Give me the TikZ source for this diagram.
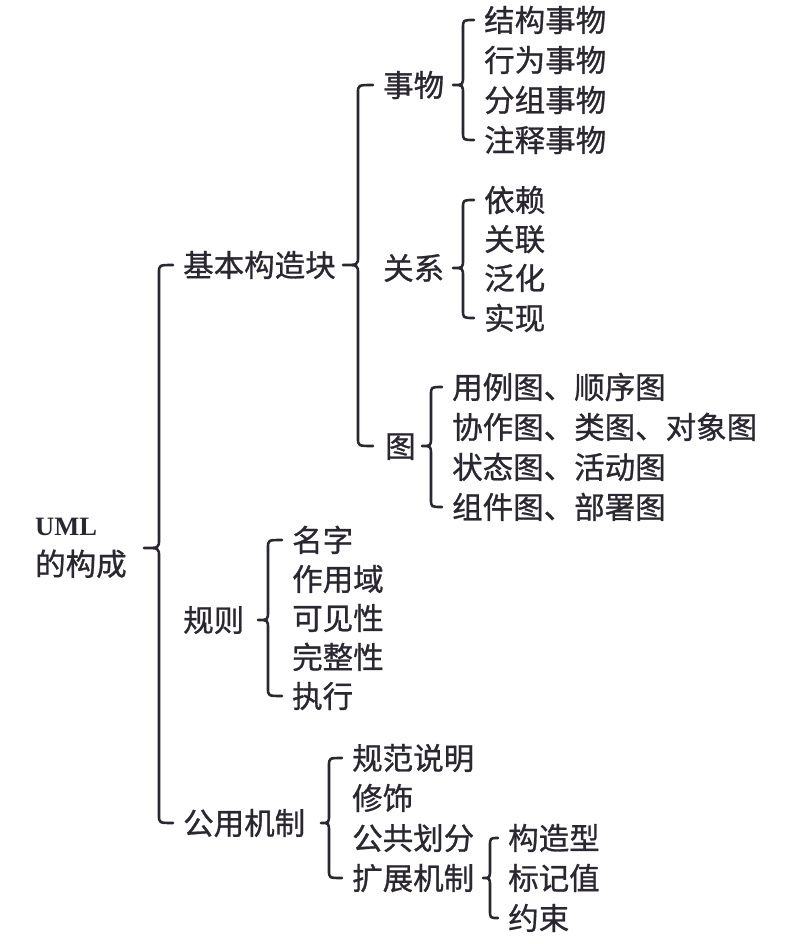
\documentclass[tikz,border=0pt]{standalone}
\usepackage{fontspec}
\setmainfont{Noto Sans CJK SC}[FakeBold=0.9]
\newfontfamily\umlfont{Liberation Serif}
\usetikzlibrary{calc}
\definecolor{ink}{HTML}{2B2730}
\newcommand\cjkfs{\fontsize{30.5}{40}\selectfont}
\newcommand\mybrace[5]{%
  \draw[brc] let \p1=(#2.west), \p2=(#3.west), \p3=(#1.east) in
    ({\x1-10pt},\y1) .. controls ({\x1-10pt-#4},\y1) .. ({\x1-10pt-#4},\y1-8pt)
    -- ({\x1-10pt-#4},\y3+9pt) .. controls ({\x1-10pt-#4},\y3) .. ({\x1-10pt-#4-#5},\y3)
    .. controls ({\x1-10pt-#4},\y3) .. ({\x1-10pt-#4},\y3-9pt)
    -- ({\x1-10pt-#4},\y2+8pt) .. controls ({\x1-10pt-#4},\y2) .. ({\x1-10pt},\y2);
}
\tikzset{
  lbl/.style={anchor=west, inner sep=0pt, text height=26.8pt, text depth=3.7pt, font=\cjkfs, text=ink},
  rootlbl/.style={anchor=west, inner sep=0pt, align=left, font=\cjkfs, text=ink},
  brc/.style={draw=ink, line width=2.6pt, line cap=round, line join=round}
}
\begin{document}
\begin{tikzpicture}[x=1pt,y=-1pt]
\useasboundingbox[fill=white] (0,0) rectangle (784,944);
% root
\node[rootlbl] (root) at (35,548) {{\umlfont\bfseries\fontsize{26.5}{40}\selectfont UML}\\的构成};
% level 1
\node[lbl] (jb) at (183,265) {基本构造块};
\node[lbl] (gz) at (183,620) {规则};
\node[lbl] (gy) at (183,823) {公用机制};
% level 2
\node[lbl] (sw) at (383,85) {事物};
\node[lbl] (gx) at (383,268) {关系};
\node[lbl] (tu) at (385,446) {图};
% things
\node[lbl] (s1) at (484,20) {结构事物};
\node[lbl] (s2) at (484,60) {行为事物};
\node[lbl] (s3) at (484,100) {分组事物};
\node[lbl] (s4) at (484,140) {注释事物};
% relations
\node[lbl] (r1) at (484,200) {依赖};
\node[lbl] (r2) at (484,239) {关联};
\node[lbl] (r3) at (484,278) {泛化};
\node[lbl] (r4) at (484,318) {实现};
% diagrams
\node[lbl] (t1) at (452,387) {用例图、顺序图};
\node[lbl] (t2) at (452,427) {协作图、类图、对象图};
\node[lbl] (t3) at (452,467) {状态图、活动图};
\node[lbl] (t4) at (452,507) {组件图、部署图};
% rules
\node[lbl] (g1) at (292,540) {名字};
\node[lbl] (g2) at (292,579) {作用域};
\node[lbl] (g3) at (292,618) {可见性};
\node[lbl] (g4) at (292,657) {完整性};
\node[lbl] (g5) at (292,696) {执行};
% common mechanisms
\node[lbl] (c1) at (352,758) {规范说明};
\node[lbl] (c2) at (352,798) {修饰};
\node[lbl] (c3) at (352,838) {公共划分};
\node[lbl] (c4) at (352,878) {扩展机制};
% extension mechanisms
\node[lbl] (e1) at (508,838) {构造型};
\node[lbl] (e2) at (508,878) {标记值};
\node[lbl] (e3) at (508,918) {约束};
% braces
\mybrace{root}{jb}{gy}{14pt}{15pt}
\mybrace{jb}{sw}{tu}{15pt}{15pt}
\mybrace{sw}{s1}{s4}{11pt}{10pt}
\mybrace{gx}{r1}{r4}{11pt}{10pt}
\mybrace{tu}{t1}{t4}{11pt}{9pt}
\mybrace{gz}{g1}{g5}{14pt}{10pt}
\mybrace{gy}{c1}{c4}{13pt}{8pt}
\mybrace{c4}{e1}{e3}{8pt}{7pt}
\end{tikzpicture}
\end{document}
